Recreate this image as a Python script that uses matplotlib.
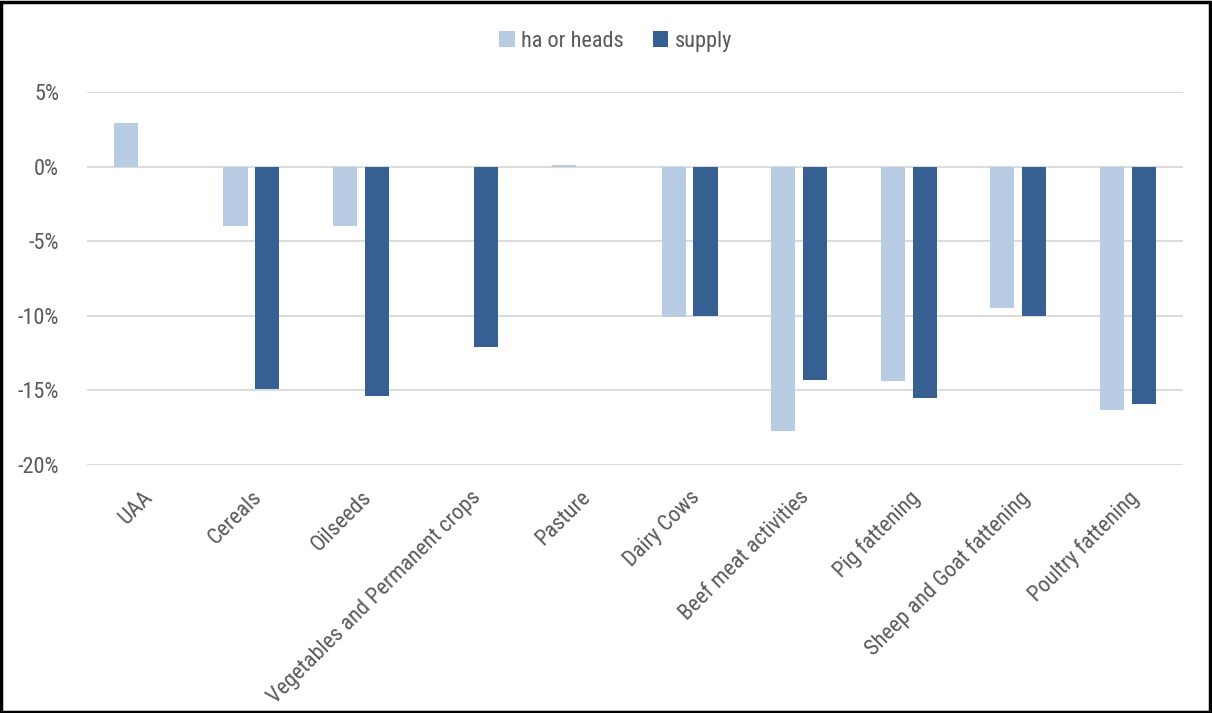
import numpy as np
import matplotlib.pyplot as plt
from matplotlib.patches import Rectangle

categories = ["UAA", "Cereals", "Oilseeds", "Vegetables and Permanent crops", "Pasture",
              "Dairy Cows", "Beef meat activities", "Pig fattening",
              "Sheep and Goat fattening", "Poultry fattening"]
ha_or_heads = [2.9, -4.0, -4.0, -0.05, 0.1, -10.1, -17.7, -14.4, -9.5, -16.3]
supply = [0.0, -14.9, -15.4, -12.1, 0.0, -10.05, -14.3, -15.5, -10.0, -15.9]
yticks = [5, 0, -5, -10, -15, -20]

plt.rcParams['font.family'] = ['Roboto Condensed', 'DejaVu Sans']
text_col = '#595959'

fig = plt.figure(figsize=(12.12, 7.13), dpi=100)
ax = fig.add_axes([0.0718, 0.348, 0.904, 0.523])

x = np.arange(len(categories))
w = 0.22
off = 0.145
ax.bar(x - off, ha_or_heads, w, color='#B8CCE4', label='ha or heads', zorder=3)
ax.bar(x + off, supply, w, color='#366092', label='supply', zorder=3)

ax.set_xlim(-0.5, len(categories) - 0.5)
ax.set_ylim(-20, 5)
ax.set_yticks(yticks)
ax.set_yticklabels([f"{v}%" for v in yticks], fontsize=16, color=text_col)
ax.yaxis.grid(True, color='#D9D9D9', linewidth=1.3, zorder=0)
ax.tick_params(axis='y', length=0, pad=20)
ax.set_xticks(x)
ax.set_xticklabels(categories, rotation=45, ha='right', rotation_mode='anchor',
                   fontsize=16, color=text_col)
ax.tick_params(axis='x', length=0, pad=16)
for s in ax.spines.values():
    s.set_visible(False)

leg = fig.legend(loc='center', bbox_to_anchor=(0.508, 0.942), ncol=2, frameon=False,
                 fontsize=16, handlelength=0.7, handleheight=0.7, handletextpad=0.3,
                 columnspacing=1.3)
for t in leg.get_texts():
    t.set_color(text_col)

fig.patches.append(Rectangle((0.001, 0.002), 0.997, 0.995, transform=fig.transFigure,
                             fill=False, edgecolor='black', linewidth=2.5))

fig.savefig('out.png', dpi=100)
